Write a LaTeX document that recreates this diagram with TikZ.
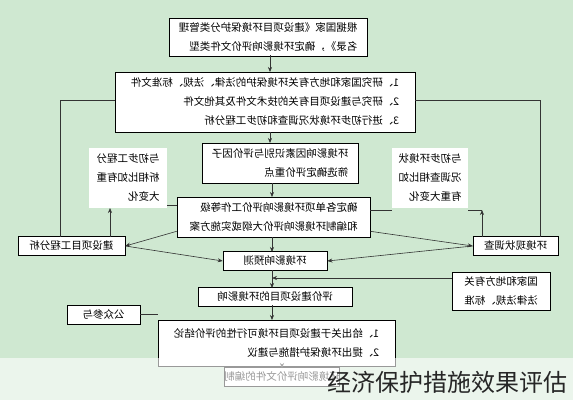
\documentclass[tikz,border=0pt]{standalone}
\usepackage{fontspec}
\usepackage{graphicx}
\setmainfont{Noto Sans CJK SC}
\usetikzlibrary{arrows.meta}
\definecolor{bg}{rgb}{0.81,0.91,0.82}
\newcommand{\mir}[1]{\reflectbox{\begin{tabular}{@{}l@{}}#1\end{tabular}}}
\tikzset{
  box/.style={draw=black, fill=white, line width=0.6pt, inner sep=0pt, font=\fontsize{10.5}{19}\selectfont},
  note/.style={fill=white, inner sep=0pt, font=\fontsize{10.5}{19}\selectfont},
  ln/.style={line width=0.6pt, draw=black!80},
  ar/.style={ln, -{Stealth[length=5pt,width=4pt]}}
}
\begin{document}
\begin{tikzpicture}[x=1pt,y=-1pt]
\fill[bg] (0,0) rectangle (573,400);
\useasboundingbox (0,0) rectangle (573,400);
% boxes (positions in px, y down)
\node[box, minimum width=198pt, minimum height=35pt] (b1) at (268,37.5) {\mir{根据国家《建设项目环境保护分类管理\\ 名录》，确定环境影响评价文件类型}};
\node[box, minimum width=300pt, minimum height=60pt] (b2) at (265,102) {\mir{1、研究国家和地方有关环境保护的法律、法规、标准文件\\ 2、研究与建设项目有关的技术文件及其他文件\\ 3、进行初步环境状况调查和初步工程分析}};
\node[box, minimum width=156pt, minimum height=40pt] (b3) at (280,163) {\mir{环境影响因素识别与评价因子\\ 筛选确定评价重点}};
\node[note, minimum width=78pt, minimum height=60pt] (nl) at (128,178) {\mir{与初步工程分\\ 析相比如有重\\ 大变化}};
\node[note, minimum width=76pt, minimum height=60pt] (nr) at (430,178) {\mir{与初步环境状\\ 况调查相比如\\ 有重大变化}};
\node[box, minimum width=193pt, minimum height=40pt] (b4) at (273.5,217) {\mir{确定各单项环境影响评价工作等级\\ 和编制环境影响评价大纲或实施方案}};
\node[box, minimum width=107pt, minimum height=18pt] (lb) at (71.5,246) {\mir{建设项目工程分析}};
\node[box, minimum width=85pt, minimum height=18pt] (rb) at (515.5,246) {\mir{环境现状调查}};
\node[box, minimum width=104pt, minimum height=18pt] (pr) at (275,261) {\mir{环境影响预测}};
\node[box, minimum width=154pt, minimum height=17pt] (ev) at (275,296.5) {\mir{评价建设项目的环境影响}};
\node[box, minimum width=98pt, minimum height=38pt] (st) at (501,291) {\mir{国家和地方有关\\ 法律法规、标准}};
\node[box, minimum width=73pt, minimum height=15pt] (pp) at (103.5,314.5) {\mir{公众参与}};
\node[box, minimum width=237pt, minimum height=46pt] (bt) at (276.5,343) {\mir{1、给出关于建设项目环境可行性的评价结论\\ 2、提出环境保护措施与建议}};
\node[box, minimum width=100pt, minimum height=18pt] (fn) at (282,377) {\mir{环境影响评价文件的编制}};
% main flow
\draw[ar] (270,55) -- (270,72);
\draw[ar] (270,132) -- (270,143);
\draw[ar] (272,183) -- (272,197);
\draw[ar] (272,237) -- (272,252);
\draw[ar] (272,270) -- (272,288);
\draw[ar] (272,305) -- (272,320);
\draw[ar] (282,366) -- (282,368);
% side loops
\draw[ln] (b2.west |- 0,100) -- (60,100) -- (60,237);
\draw[ln] (b2.east |- 0,100) -- (540,100) -- (540,237);
\draw[ar] (110,237) -- (110,208);
\draw[ln] (167,205) -- (177,205);
\draw[ln] (370,210) -- (392,210);
\draw[ln] (468,210) -- (482,210);
\draw[ar] (482,237) -- (482,210);
% to analysis boxes
\draw[ar] (b4.south west) ++(0,-6) -- (lb.east);
\draw[ar] (b4.south east) ++(0,-6) -- (rb.west);
\draw[ar] (lb.east) -- (pr.west);
\draw[ar] (rb.west) -- (pr.east);
\draw[ar] (st.west |- 0,278) -- (272,278);
\draw[ln] (pp.east) -- (158,314.5);
% watermark
\fill[white, opacity=0.6] (0,358) rectangle (573,400);
\node[font=\fontsize{24}{24}\selectfont, text=black!85, anchor=east] (wm) at (571,382) {经济保护措施效果评估};
\end{tikzpicture}
\end{document}
